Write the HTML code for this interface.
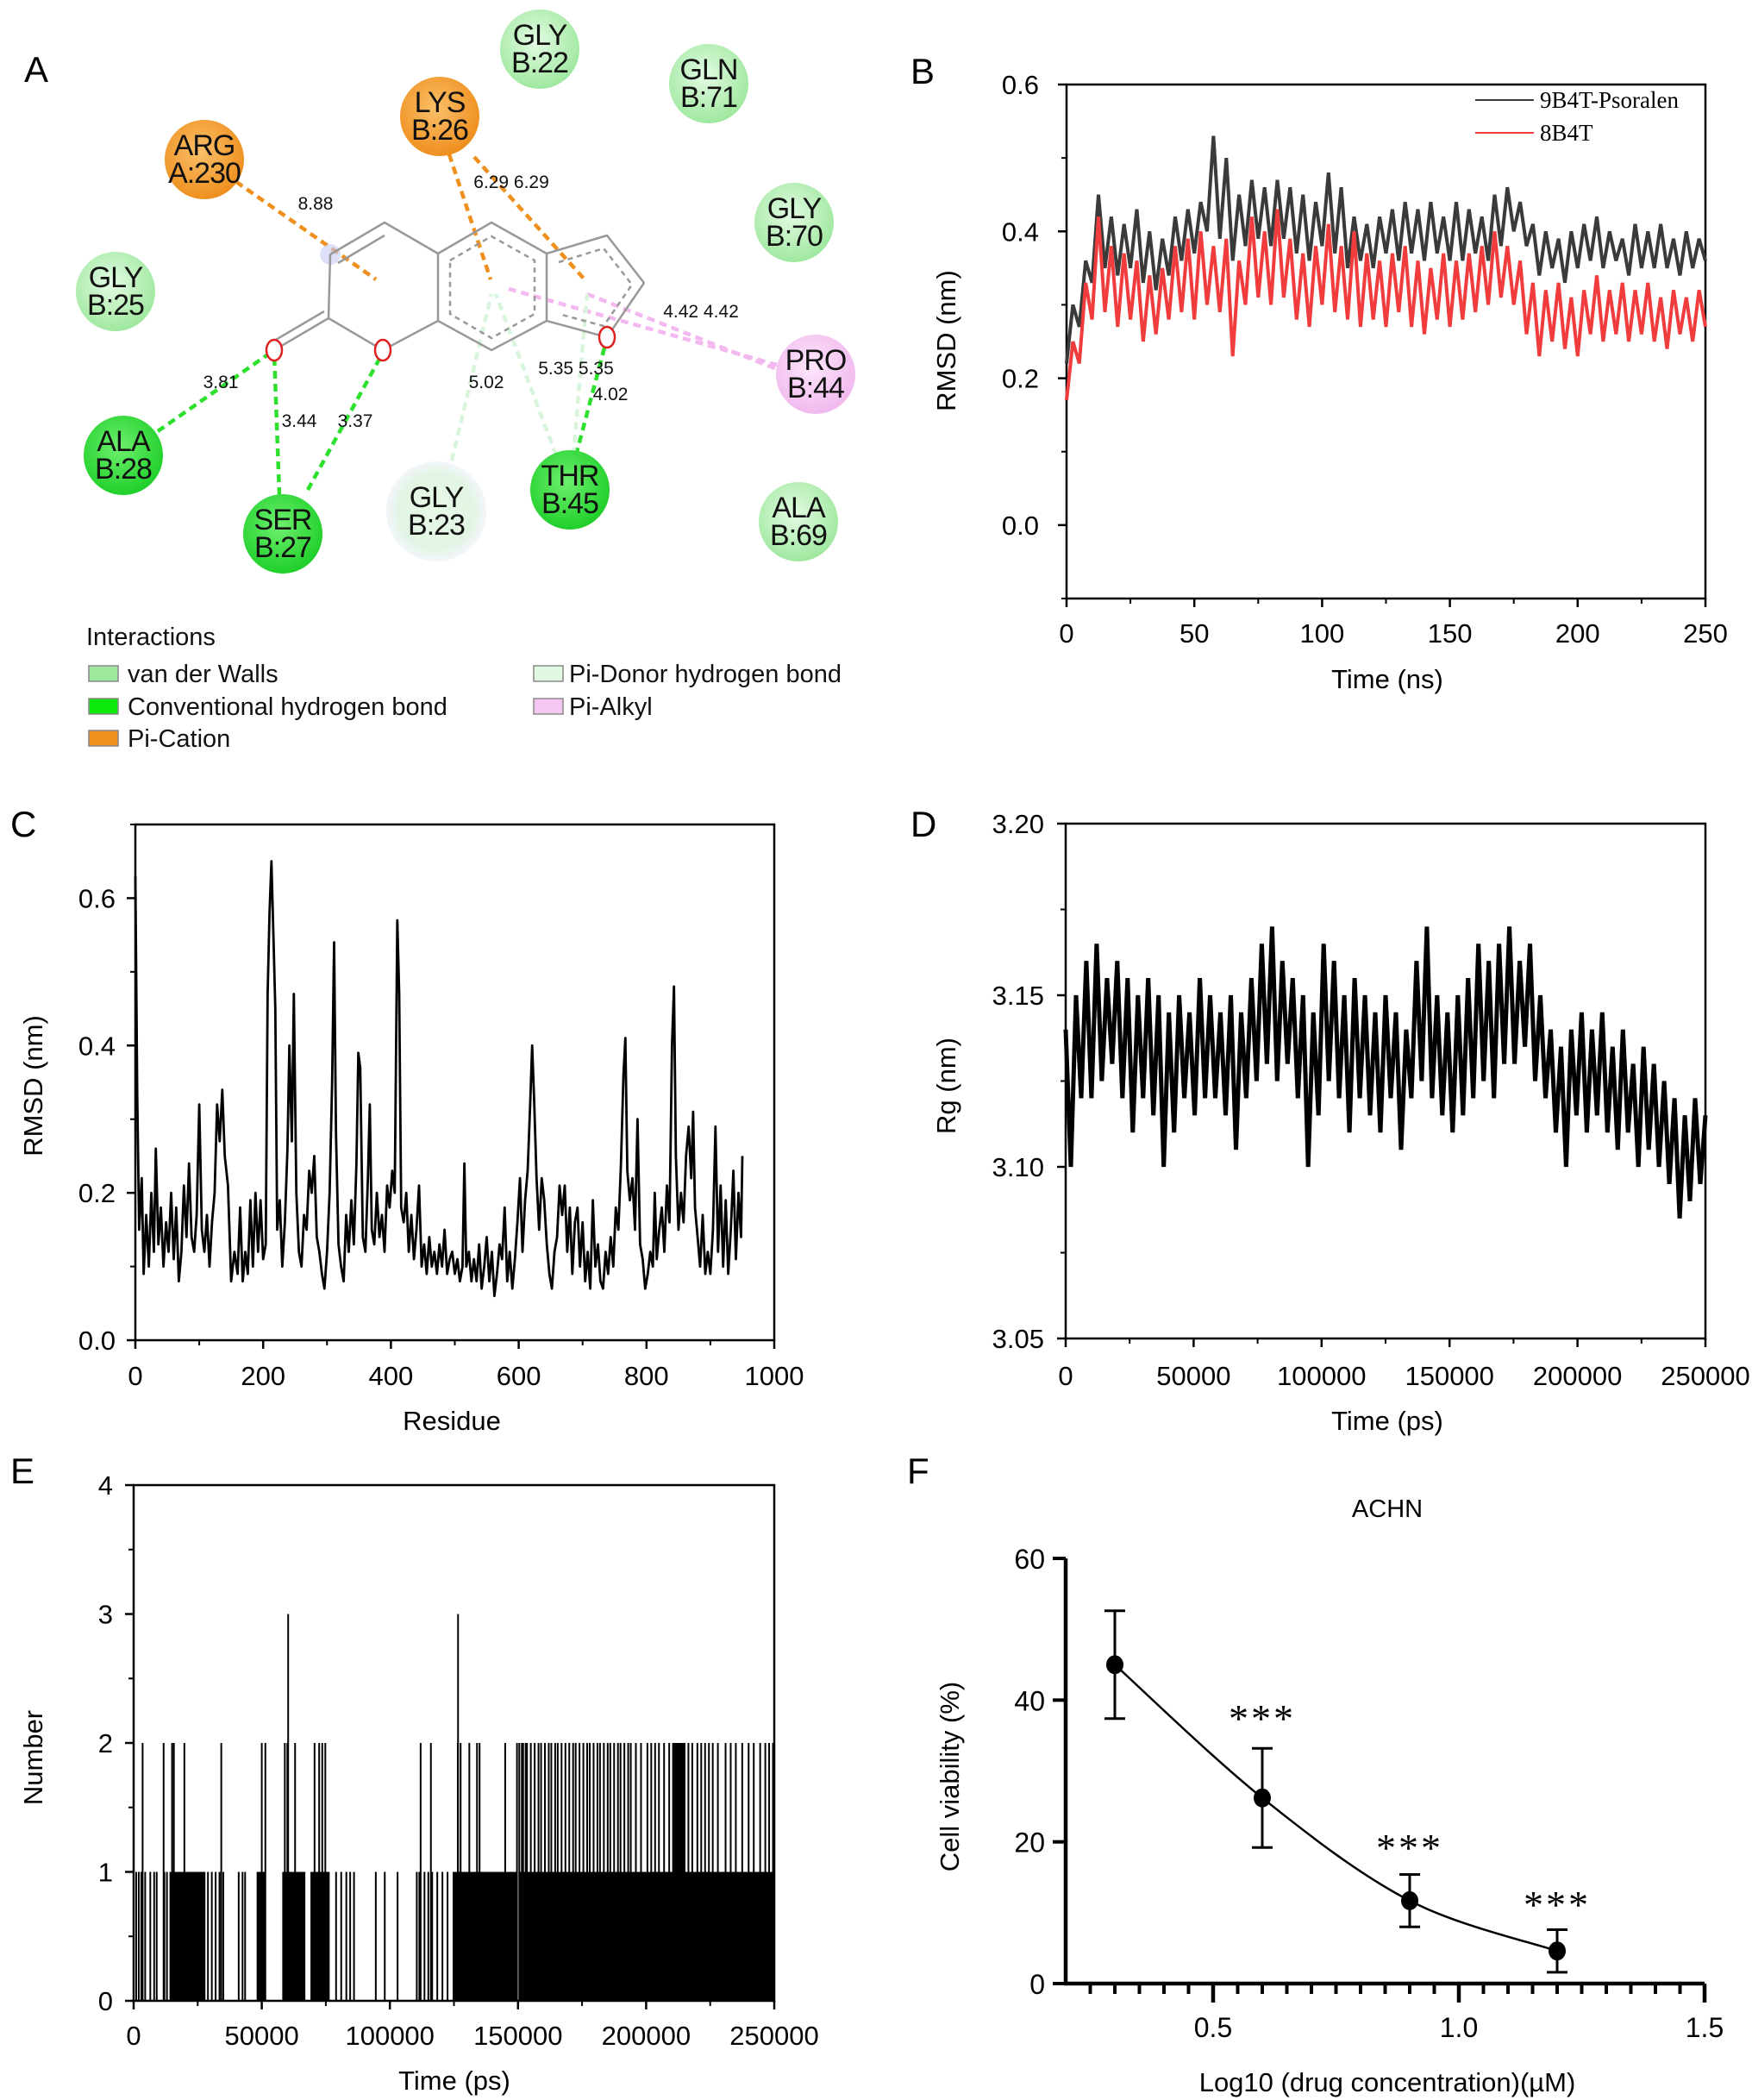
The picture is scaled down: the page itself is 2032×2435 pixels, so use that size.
<!DOCTYPE html>
<html><head><meta charset="utf-8"><title>Figure</title>
<style>
html,body{margin:0;padding:0;background:#fff;}
svg{display:block;font-family:"Liberation Sans",sans-serif;}
</style></head>
<body>
<svg id="fig" width="2032" height="2435" viewBox="0 0 2032 2435" xmlns="http://www.w3.org/2000/svg">
<defs>
<radialGradient id="gV" cx="45%" cy="40%" r="60%"><stop offset="0" stop-color="#e4fbe4"/><stop offset="1" stop-color="#9fe89f"/></radialGradient>
<radialGradient id="gH" cx="45%" cy="40%" r="60%"><stop offset="0" stop-color="#6ff06f"/><stop offset="1" stop-color="#1fcf2a"/></radialGradient>
<radialGradient id="gO" cx="45%" cy="40%" r="60%"><stop offset="0" stop-color="#fbc06a"/><stop offset="1" stop-color="#ee8f1e"/></radialGradient>
<radialGradient id="gP" cx="45%" cy="40%" r="60%"><stop offset="0" stop-color="#fde6fb"/><stop offset="1" stop-color="#f1b9ee"/></radialGradient>
<radialGradient id="gD" cx="50%" cy="50%" r="50%"><stop offset="0" stop-color="#e6f8e6"/><stop offset="0.75" stop-color="#e2f5e4"/><stop offset="1" stop-color="#f3f5fb"/></radialGradient>
</defs>

<g id="panelA">
<text x="28" y="95" font-size="42">A</text>
<g fill="none" stroke-width="4.5" stroke-dasharray="9,6">
<line x1="237" y1="185" x2="436" y2="324" stroke="#ee8f1e"/>
<line x1="521" y1="179" x2="569" y2="324" stroke="#ee8f1e"/>
<line x1="550" y1="182" x2="678" y2="324" stroke="#ee8f1e"/>
<line x1="590" y1="335" x2="901" y2="423" stroke="#f4b8f0"/>
<line x1="681" y1="341" x2="901" y2="428" stroke="#f4b8f0"/>
<line x1="183" y1="500" x2="318" y2="406" stroke="#2ee02e"/>
<line x1="324" y1="574" x2="318" y2="409" stroke="#2ee02e"/>
<line x1="357" y1="568" x2="444" y2="409" stroke="#2ee02e"/>
<line x1="668" y1="528" x2="704" y2="392" stroke="#2ee02e"/>
<line x1="524" y1="534" x2="570" y2="341" stroke="#d8f5dc"/>
<line x1="645" y1="528" x2="575" y2="341" stroke="#d8f5dc"/>
<line x1="665" y1="528" x2="681" y2="341" stroke="#d8f5dc"/>
</g>
<g fill="none" stroke="#999" stroke-width="2.5">
<circle cx="383" cy="295" r="12" fill="#c8ccf5" stroke="none" opacity="0.6"/>
<polyline points="383,295 446,258 508,294 570,258 634,294 704,273 747,328"/>
<line x1="392" y1="305" x2="446" y2="273"/>
<line x1="383" y1="295" x2="381" y2="369"/>
<line x1="508" y1="294" x2="508" y2="372"/>
<line x1="634" y1="294" x2="634" y2="372"/>
<polyline points="508,372 570,406 634,372"/>
<line x1="381" y1="369" x2="444" y2="406"/>
<line x1="444" y1="406" x2="508" y2="372"/>
<line x1="634" y1="372" x2="704" y2="391"/>
<line x1="704" y1="391" x2="747" y2="328"/>
<line x1="381" y1="369" x2="318" y2="406"/>
<line x1="376" y1="361" x2="313" y2="398"/>
<polygon points="522,302 570,274 620,302 620,364 570,392 522,364" stroke-dasharray="6,5"/>
<polyline points="648,304 700,288 733,330 700,378 648,364" stroke-dasharray="6,5"/>
<ellipse cx="318" cy="406" rx="9" ry="12" stroke="#e02020" stroke-width="2.5" fill="#fff"/>
<ellipse cx="444" cy="406" rx="9" ry="12" stroke="#e02020" stroke-width="2.5" fill="#fff"/>
<ellipse cx="704" cy="391" rx="9" ry="12" stroke="#e02020" stroke-width="2.5" fill="#fff"/>
</g>
<g font-size="21" fill="#111" text-anchor="middle">
<text x="366" y="243">8.88</text>
<text x="593" y="218">6.29 6.29</text>
<text x="813" y="368">4.42 4.42</text>
<text x="256" y="450">3.81</text>
<text x="347" y="495">3.44</text>
<text x="412" y="495">3.37</text>
<text x="564" y="450">5.02</text>
<text x="668" y="434">5.35 5.35</text>
<text x="708" y="464">4.02</text>
</g>
<g font-size="34" text-anchor="middle" fill="#111" letter-spacing="-1">
<g><circle cx="626" cy="57" r="46" fill="url(#gV)"/><text x="626" y="52">GLY</text><text x="626" y="84">B:22</text></g>
<g><circle cx="822" cy="97" r="46" fill="url(#gV)"/><text x="822" y="92">GLN</text><text x="822" y="124">B:71</text></g>
<g><circle cx="510" cy="135" r="46" fill="url(#gO)"/><text x="510" y="130">LYS</text><text x="510" y="162">B:26</text></g>
<g><circle cx="237" cy="185" r="46" fill="url(#gO)"/><text x="237" y="180">ARG</text><text x="237" y="212">A:230</text></g>
<g><circle cx="921" cy="258" r="46" fill="url(#gV)"/><text x="921" y="253">GLY</text><text x="921" y="285">B:70</text></g>
<g><circle cx="134" cy="338" r="46" fill="url(#gV)"/><text x="134" y="333">GLY</text><text x="134" y="365">B:25</text></g>
<g><circle cx="946" cy="434" r="46" fill="url(#gP)"/><text x="946" y="429">PRO</text><text x="946" y="461">B:44</text></g>
<g><circle cx="143" cy="528" r="46" fill="url(#gH)"/><text x="143" y="523">ALA</text><text x="143" y="555">B:28</text></g>
<g><circle cx="328" cy="619" r="46" fill="url(#gH)"/><text x="328" y="614">SER</text><text x="328" y="646">B:27</text></g>
<g><circle cx="506" cy="593" r="58" fill="url(#gD)"/><text x="506" y="588">GLY</text><text x="506" y="620">B:23</text></g>
<g><circle cx="661" cy="568" r="46" fill="url(#gH)"/><text x="661" y="563">THR</text><text x="661" y="595">B:45</text></g>
<g><circle cx="926" cy="605" r="46" fill="url(#gV)"/><text x="926" y="600">ALA</text><text x="926" y="632">B:69</text></g>
</g>
<g font-size="29" fill="#111">
<text x="100" y="748">Interactions</text>
<g><rect x="103" y="772" width="34" height="18" fill="#9de89d" stroke="#888" stroke-width="1.5"/><text x="148" y="791">van der Walls</text></g>
<g><rect x="103" y="810" width="34" height="18" fill="#0be80b" stroke="#888" stroke-width="1.5"/><text x="148" y="829">Conventional hydrogen bond</text></g>
<g><rect x="103" y="847" width="34" height="18" fill="#f0901e" stroke="#888" stroke-width="1.5"/><text x="148" y="866">Pi-Cation</text></g>
<g><rect x="619" y="772" width="34" height="18" fill="#e2f7e2" stroke="#888" stroke-width="1.5"/><text x="660" y="791">Pi-Donor hydrogen bond</text></g>
<g><rect x="619" y="810" width="34" height="18" fill="#f6c6f2" stroke="#888" stroke-width="1.5"/><text x="660" y="829">Pi-Alkyl</text></g>
</g>
</g>
<g id="charts"></g>
</svg>

<script>
const bTimeMax = 250;
const bPsoralen = [0.22,0.30,0.27,0.36,0.33,0.45,0.35,0.42,0.34,0.41,0.35,0.43,0.33,0.40,0.32,0.39,0.34,0.42,0.36,0.43,0.37,0.44,0.40,0.53,0.39,0.50,0.36,0.45,0.38,0.47,0.39,0.46,0.38,0.47,0.39,0.46,0.37,0.45,0.36,0.44,0.38,0.48,0.37,0.46,0.35,0.42,0.36,0.41,0.35,0.42,0.37,0.43,0.36,0.44,0.37,0.43,0.36,0.44,0.37,0.42,0.36,0.44,0.36,0.43,0.37,0.42,0.36,0.45,0.38,0.46,0.40,0.44,0.38,0.41,0.34,0.40,0.35,0.39,0.33,0.40,0.35,0.41,0.36,0.42,0.35,0.40,0.36,0.39,0.34,0.41,0.35,0.40,0.35,0.41,0.35,0.39,0.34,0.40,0.35,0.39,0.36];
const b8B4T = [0.17,0.25,0.22,0.33,0.28,0.42,0.29,0.38,0.27,0.37,0.28,0.36,0.25,0.34,0.26,0.35,0.28,0.38,0.29,0.39,0.28,0.40,0.30,0.38,0.29,0.39,0.23,0.36,0.30,0.42,0.31,0.40,0.30,0.43,0.31,0.39,0.28,0.37,0.27,0.38,0.30,0.41,0.29,0.38,0.28,0.40,0.27,0.37,0.28,0.36,0.27,0.37,0.29,0.38,0.27,0.36,0.26,0.35,0.28,0.37,0.27,0.36,0.28,0.37,0.29,0.38,0.30,0.40,0.31,0.38,0.30,0.36,0.26,0.33,0.23,0.32,0.25,0.33,0.24,0.31,0.23,0.32,0.26,0.34,0.25,0.32,0.26,0.33,0.25,0.32,0.26,0.33,0.25,0.31,0.24,0.32,0.26,0.31,0.25,0.32,0.27];
const bYTicks = [0.0,0.2,0.4,0.6];
const bXTicks = [0,50,100,150,200,250];
const bLegend = ["9B4T-Psoralen","8B4T"];

const cResidues = [0,3,6,10,13,17,21,25,29,32,36,40,44,48,52,56,60,64,68,72,76,80,84,88,92,96,100,104,108,112,116,120,124,128,132,136,140,145,150,155,160,164,168,172,176,180,184,188,192,196,200,204,207,210,213,216,219,222,226,230,234,238,241,245,248,252,256,260,264,268,272,276,280,284,288,292,296,300,304,308,311,314,318,322,326,330,334,338,342,346,349,352,356,360,364,367,370,374,378,382,386,390,394,398,402,406,410,413,416,420,424,428,432,436,440,444,448,452,456,460,464,468,472,476,480,484,488,492,496,500,504,508,512,515,518,522,526,530,534,538,542,546,550,554,558,562,566,570,574,578,582,586,590,594,598,602,606,610,614,618,621,624,628,632,636,640,644,648,652,656,660,664,668,672,676,680,684,688,692,696,700,704,708,712,716,720,724,728,732,736,740,744,748,752,756,760,764,767,770,774,778,782,786,790,794,798,802,806,810,813,816,820,824,828,832,836,840,843,846,850,854,858,862,866,870,873,876,880,884,888,892,896,900,904,908,912,916,920,924,928,932,936,940,944,948,950];
const cRmsd = [0.63,0.33,0.15,0.22,0.09,0.17,0.10,0.20,0.12,0.26,0.13,0.18,0.10,0.16,0.12,0.20,0.11,0.18,0.08,0.12,0.21,0.14,0.24,0.14,0.12,0.17,0.32,0.15,0.12,0.17,0.10,0.16,0.20,0.32,0.27,0.34,0.25,0.21,0.08,0.12,0.09,0.18,0.08,0.12,0.09,0.19,0.10,0.20,0.12,0.19,0.11,0.13,0.47,0.58,0.65,0.55,0.45,0.15,0.19,0.10,0.16,0.26,0.40,0.27,0.47,0.20,0.12,0.10,0.17,0.15,0.23,0.20,0.25,0.14,0.12,0.09,0.07,0.12,0.20,0.35,0.54,0.28,0.13,0.10,0.08,0.17,0.12,0.19,0.13,0.24,0.39,0.37,0.14,0.12,0.22,0.32,0.15,0.13,0.20,0.14,0.17,0.12,0.21,0.18,0.23,0.20,0.57,0.47,0.18,0.16,0.20,0.12,0.17,0.11,0.15,0.21,0.10,0.13,0.09,0.14,0.10,0.12,0.09,0.13,0.10,0.15,0.09,0.11,0.12,0.09,0.11,0.08,0.10,0.24,0.10,0.12,0.08,0.11,0.08,0.13,0.07,0.10,0.14,0.08,0.12,0.06,0.09,0.13,0.11,0.18,0.08,0.12,0.07,0.11,0.16,0.22,0.12,0.19,0.23,0.32,0.40,0.33,0.22,0.15,0.22,0.19,0.13,0.09,0.07,0.12,0.14,0.21,0.17,0.21,0.12,0.18,0.09,0.16,0.18,0.10,0.16,0.08,0.12,0.07,0.19,0.10,0.13,0.08,0.07,0.12,0.09,0.14,0.10,0.18,0.15,0.24,0.36,0.41,0.23,0.19,0.22,0.15,0.30,0.13,0.11,0.07,0.09,0.12,0.10,0.20,0.11,0.15,0.18,0.12,0.21,0.16,0.40,0.48,0.25,0.15,0.20,0.16,0.25,0.29,0.22,0.31,0.18,0.14,0.10,0.17,0.09,0.12,0.09,0.15,0.29,0.12,0.21,0.10,0.19,0.09,0.15,0.23,0.11,0.20,0.14,0.25];
const cYTicks = [0.0,0.2,0.4,0.6];
const cXTicks = [0,200,400,600,800,1000];

const dTimeMax = 250000;
const dRg = [3.14,3.10,3.15,3.12,3.16,3.12,3.165,3.125,3.155,3.13,3.16,3.12,3.155,3.11,3.15,3.12,3.155,3.115,3.15,3.10,3.145,3.11,3.15,3.12,3.145,3.115,3.155,3.12,3.15,3.12,3.145,3.115,3.15,3.105,3.145,3.12,3.155,3.125,3.165,3.13,3.17,3.125,3.16,3.13,3.155,3.12,3.15,3.10,3.145,3.115,3.165,3.125,3.16,3.12,3.15,3.11,3.155,3.12,3.15,3.115,3.145,3.11,3.15,3.12,3.145,3.105,3.14,3.12,3.16,3.125,3.17,3.12,3.15,3.115,3.145,3.11,3.15,3.115,3.155,3.12,3.165,3.125,3.16,3.12,3.165,3.13,3.17,3.13,3.16,3.135,3.165,3.125,3.15,3.12,3.14,3.11,3.135,3.10,3.14,3.115,3.145,3.11,3.14,3.115,3.145,3.11,3.135,3.105,3.14,3.11,3.13,3.10,3.135,3.105,3.13,3.10,3.125,3.095,3.12,3.085,3.115,3.09,3.12,3.095,3.115];
const dYTicks = [3.05,3.10,3.15,3.20];
const dXTicks = [0,50000,100000,150000,200000,250000];

const eBlockStart = [14000,48000,58000,69000,124500,150500];
const eBlockEnd = [28000,51500,67000,76500,149500,250000];
const eOneTimes = [1000,2000,3000,4500,6500,8000,9000,12000,13000,29000,30500,32000,33500,35000,41000,42500,43500,79000,81000,83000,84500,86000,94500,98000,103000,110500,111500,113500,115000,116500,118500,120500,122500];
const eTwoTimes = [3500,11700,15000,15700,19800,34200,50000,51400,59000,60000,63000,70600,72400,73600,74800,112000,116000,126500,127600,131000,134000,135000,145000,149600,150500,151500,152000,153000,153500,155000,156500,158000,159000,160500,162000,163000,164500,165500,167000,168500,170000,171500,172500,174000,175500,177000,178000,179500,181000,182000,183500,185000,186000,187500,189000,190000,191500,193000,194000,196000,198000,200500,202000,203500,205000,207000,209000,210500,211000,211500,212000,212500,213000,213500,214000,214500,215000,216500,218000,220000,221500,223000,224500,226000,228000,231000,233000,235000,237500,240000,242000,244500,246500,248000,249500];
const eThreeTimes = [60300,126600];
const eYTicks = [0,1,2,3,4];
const eXTicks = [0,50000,100000,150000,200000,250000];

const fLogConc = [0.3,0.6,0.9,1.2];
const fViability = [45.0,26.2,11.7,4.6];
const fError = [7.6,7.0,3.7,3.0];
const fStars = ["","***","***","***"];
const fStarLevel = [0,38,19.7,11.7];
const fYTicks = [0,20,40,60];
const fXTicks = [0.5,1.0,1.5];

const NS = "http://www.w3.org/2000/svg";
const root = document.getElementById("charts");
function mk(tag, attrs, parent){
  const e = document.createElementNS(NS, tag);
  for (const k in attrs) e.setAttribute(k, attrs[k]);
  (parent||root).appendChild(e);
  return e;
}
function lin(d0,d1,r0,r1){ return v => r0 + (v-d0)*(r1-r0)/(d1-d0); }
function fmt(v,dec){ return dec>0 ? v.toFixed(dec) : String(v); }

function frame(p, name){
  const g = mk("g",{});
  
  
  const r = mk("rect",{x:p.x0,y:p.y0,width:p.x1-p.x0,height:p.y1-p.y0,fill:"none",stroke:"#000","stroke-width":2.5},g);
  
  
  return g;
}
function yAxis(g, p, sy, ticks, minor, dec, labelX){
  for (const t of ticks){
    const y = sy(t);
    const l = mk("line",{x1:p.x0-10,x2:p.x0,y1:y,y2:y,stroke:"#000","stroke-width":2.5},g);
    
    
    const tx = mk("text",{x:labelX,y:y+11,"text-anchor":"end","font-size":31},g);
    tx.textContent = fmt(t,dec);
    
    
  }
  for (const t of minor){
    const y = sy(t);
    const l = mk("line",{x1:p.x0-6,x2:p.x0,y1:y,y2:y,stroke:"#000","stroke-width":2},g);
    
    
  }
}
function xAxis(g, p, sx, ticks, minor, labelY){
  for (const t of ticks){
    const x = sx(t);
    const l = mk("line",{x1:x,x2:x,y1:p.y1,y2:p.y1+10,stroke:"#000","stroke-width":2.5},g);
    
    
    const tx = mk("text",{x:x,y:labelY,"text-anchor":"middle","font-size":31},g);
    tx.textContent = String(t);
    
    
  }
  for (const t of minor){
    const x = sx(t);
    const l = mk("line",{x1:x,x2:x,y1:p.y1,y2:p.y1+6,stroke:"#000","stroke-width":2},g);
    
    
  }
}
function titles(g, xt, xx, xy, yt, yx, yy, letter, lx, ly){
  const a = mk("text",{x:xx,y:xy,"text-anchor":"middle","font-size":31},g);
  a.textContent = xt;
  
  
  const b = mk("text",{x:yx,y:yy,"text-anchor":"middle","font-size":31,transform:`rotate(-90 ${yx} ${yy})`},g);
  b.textContent = yt;
  
  
  const c = mk("text",{x:lx,y:ly,"font-size":42},g);
  c.textContent = letter;
  
  
}
function polyPts(xs, ys, sx, sy){ return xs.map((x,i)=>sx(x).toFixed(1)+","+sy(ys[i]).toFixed(1)).join(" "); }
function idxTimes(n, max){ const a=[]; for(let i=0;i<n;i++) a.push(i*max/(n-1)); return a; }
function range(a,b,s){ const r=[]; for(let v=a; v<=b+1e-9; v+=s) r.push(+v.toFixed(6)); return r; }

(function(){
  const p = {x0:1237,x1:1978,y0:98,y1:694};
  const sx = lin(0,250,p.x0,p.x1), sy = lin(-0.1,0.6,p.y1,p.y0);
  const g = frame(p,"panel-b-rmsd-chart");
  yAxis(g,p,sy,bYTicks,[-0.1,0.1,0.3,0.5],1,1205);
  xAxis(g,p,sx,bXTicks,[25,75,125,175,225],745);
  titles(g,"Time (ns)",1609,798,"RMSD (nm)",1108,395,"B",1056,97);
  const t1 = idxTimes(bPsoralen.length,bTimeMax);
  const l1 = mk("polyline",{points:polyPts(t1,bPsoralen,sx,sy),fill:"none",stroke:"#3a3a3a","stroke-width":4,"stroke-linejoin":"bevel"},g);
  
  
  const t2 = idxTimes(b8B4T.length,bTimeMax);
  const l2 = mk("polyline",{points:polyPts(t2,b8B4T,sx,sy),fill:"none",stroke:"#f03c3c","stroke-width":4,"stroke-linejoin":"bevel"},g);
  
  
  const cols = ["#3a3a3a","#f03c3c"];
  bLegend.forEach((name,i)=>{
    const y = 116 + i*38;
    const lg = mk("g",{},g);
    
    
    mk("line",{x1:1711,x2:1779,y1:y,y2:y,stroke:cols[i],"stroke-width":2},lg);
    const t = mk("text",{x:1786,y:y+9,"font-size":27,"font-family":"Liberation Serif, serif"},lg);
    t.textContent = name;
  });
})();

(function(){
  const p = {x0:157,x1:898,y0:956,y1:1554};
  const sx = lin(0,1000,p.x0,p.x1), sy = lin(0,0.7,p.y1,p.y0);
  const g = frame(p,"panel-c-rmsf-chart");
  yAxis(g,p,sy,cYTicks,[0.1,0.3,0.5,0.7],1,134);
  xAxis(g,p,sx,cXTicks,[100,300,500,700,900],1606);
  titles(g,"Residue",524,1658,"RMSD (nm)",49,1259,"C",12,970);
  const l = mk("polyline",{points:polyPts(cResidues,cRmsd,sx,sy),fill:"none",stroke:"#000","stroke-width":2.8,"stroke-linejoin":"round"},g);
  
  
})();

(function(){
  const p = {x0:1236,x1:1978,y0:955,y1:1552};
  const sx = lin(0,250000,p.x0,p.x1), sy = lin(3.05,3.20,p.y1,p.y0);
  const g = frame(p,"panel-d-rg-chart");
  yAxis(g,p,sy,dYTicks,[3.075,3.125,3.175],2,1211);
  xAxis(g,p,sx,dXTicks,[25000,75000,125000,175000,225000],1606);
  titles(g,"Time (ps)",1609,1658,"Rg (nm)",1108,1259,"D",1056,970);
  const t = idxTimes(dRg.length,dTimeMax);
  const l = mk("polyline",{points:polyPts(t,dRg,sx,sy),fill:"none",stroke:"#000","stroke-width":5,"stroke-linejoin":"bevel"},g);
  
  
})();

(function(){
  const p = {x0:155,x1:898,y0:1722,y1:2320};
  const sx = lin(0,250000,p.x0,p.x1), sy = lin(0,4,p.y1,p.y0);
  const g = frame(p,"panel-e-hbond-chart");
  yAxis(g,p,sy,eYTicks,[0.5,1.5,2.5,3.5],0,131);
  xAxis(g,p,sx,eXTicks,[25000,75000,125000,175000,225000],2371);
  titles(g,"Time (ps)",527,2423,"Number",49,2038,"E",12,1720);
  eBlockStart.forEach((s,i)=>{
    const r = mk("rect",{x:sx(s),y:sy(1),width:sx(eBlockEnd[i])-sx(s),height:sy(0)-sy(1),fill:"#000"},g);
    
    
  });
  const drawSpikes = (times, val, name) => times.forEach(t=>{
    const l = mk("line",{x1:sx(t),x2:sx(t),y1:sy(0),y2:sy(val),stroke:"#000","stroke-width":2},g);
    
    
  });
  drawSpikes(eOneTimes,1,"hbond-count-1");
  drawSpikes(eTwoTimes,2,"hbond-count-2");
  drawSpikes(eThreeTimes,3,"hbond-count-3");
})();

(function(){
  const x0 = 1236, x1 = 1977, yTop = 1807, yBot = 2300;
  const sx = lin(0.2,1.5,x0,x1), sy = lin(0,60,yBot,yTop);
  const g = mk("g",{});
  
  
  const ya = mk("line",{x1:x0,x2:x0,y1:yTop,y2:yBot+2,stroke:"#000","stroke-width":4.5},g);
  
  
  const xa = mk("line",{x1:x0-2,x2:x1,y1:yBot,y2:yBot,stroke:"#000","stroke-width":4.5},g);
  
  
  for (const t of fYTicks){
    const l = mk("line",{x1:x0-15,x2:x0,y1:sy(t),y2:sy(t),stroke:"#000","stroke-width":4},g);
    
    
    const tx = mk("text",{x:x0-24,y:sy(t)+12,"text-anchor":"end","font-size":32},g);
    tx.textContent = String(t);
    
    
  }
  for (const t of range(0.25,1.45,0.05)){
    const l = mk("line",{x1:sx(t),x2:sx(t),y1:yBot,y2:yBot+12,stroke:"#000","stroke-width":4},g);
    
    
  }
  for (const t of fXTicks){
    const l = mk("line",{x1:sx(t),x2:sx(t),y1:yBot,y2:yBot+22,stroke:"#000","stroke-width":4.5},g);
    
    
    const tx = mk("text",{x:sx(t),y:2362,"text-anchor":"middle","font-size":32},g);
    tx.textContent = t.toFixed(1);
    
    
  }
  const tt = mk("text",{x:1609,y:1759,"text-anchor":"middle","font-size":29},g);
  tt.textContent = "ACHN";
  
  
  const xt = mk("text",{x:1609,y:2425,"text-anchor":"middle","font-size":31},g);
  xt.textContent = "Log10 (drug concentration)(\u00b5M)";
  
  
  const yt = mk("text",{x:1112,y:2060,"text-anchor":"middle","font-size":31,transform:"rotate(-90 1112 2060)"},g);
  yt.textContent = "Cell viability (%)";
  
  
  const lt = mk("text",{x:1052,y:1720,"font-size":42},g);
  lt.textContent = "F";
  
  
  const P = fLogConc.map((x,i)=>[sx(x),sy(fViability[i])]);
  let d = `M${P[0][0]},${P[0][1]}`;
  for (let i=0;i<P.length-1;i++){
    const p0 = P[Math.max(i-1,0)], p1 = P[i], p2 = P[i+1], p3 = P[Math.min(i+2,P.length-1)];
    const c1 = [p1[0]+(p2[0]-p0[0])/6, p1[1]+(p2[1]-p0[1])/6];
    const c2 = [p2[0]-(p3[0]-p1[0])/6, p2[1]-(p3[1]-p1[1])/6];
    d += ` C${c1[0].toFixed(1)},${c1[1].toFixed(1)} ${c2[0].toFixed(1)},${c2[1].toFixed(1)} ${p2[0].toFixed(1)},${p2[1].toFixed(1)}`;
  }
  const cv = mk("path",{d:d,fill:"none",stroke:"#000","stroke-width":2.5},g);
  
  
  fLogConc.forEach((x,i)=>{
    const cx = sx(x), hi = sy(fViability[i]+fError[i]), lo = sy(fViability[i]-fError[i]);
    const eb = mk("path",{d:`M${cx},${hi}V${lo}M${cx-12},${hi}H${cx+12}M${cx-12},${lo}H${cx+12}`,stroke:"#000","stroke-width":3,fill:"none"},g);
    
    
    const pt = mk("ellipse",{cx:cx,cy:sy(fViability[i]),rx:10,ry:11,fill:"#000"},g);
    
    
    if (fStars[i]){
      const st = mk("text",{x:cx,y:sy(fStarLevel[i])+20,"text-anchor":"middle","font-size":46,"font-family":"Liberation Serif, serif","letter-spacing":"3"},g);
      st.textContent = fStars[i];
      
      
    }
  });
})();
</script>
</body></html>
